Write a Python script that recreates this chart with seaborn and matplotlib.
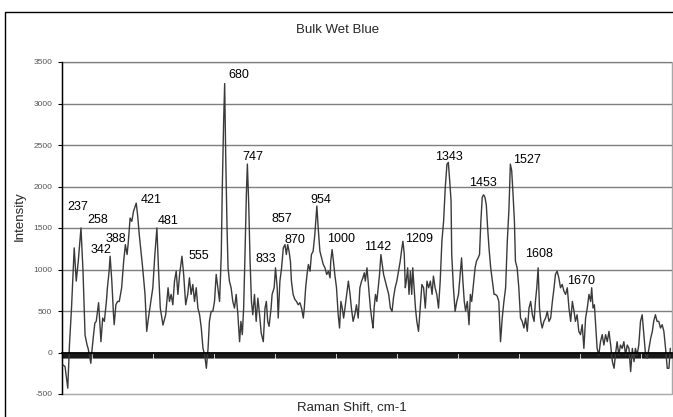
import numpy as np
import pandas as pd
import matplotlib
matplotlib.use("Agg")
import matplotlib.pyplot as plt
import seaborn as sns
from matplotlib.patches import Rectangle

# ---------------- data ----------------
raman_shift = [
    203, 209, 217, 222, 228, 236, 242, 248, 256, 262, 268, 274, 277, 281, 285, 289,
    293, 297, 301, 308, 315, 320, 325, 331, 334, 339, 342, 347, 352, 354, 359, 364,
    369, 376, 382, 387, 392, 395, 401, 406, 411, 419, 423, 428, 438, 445, 450, 455,
    462, 468, 474, 480, 485, 490, 498, 506,
    513, 517, 522, 527, 532, 537, 542, 547, 554, 559, 565, 571, 576, 581, 586, 591,
    596, 601, 606, 611, 616, 621, 626, 631, 635, 640, 645, 650, 655, 660, 665, 670,
    673, 677, 680, 683, 687, 690, 694, 699, 704, 709, 714, 719, 724, 728, 732, 736,
    740, 744, 747, 751, 755, 759, 763, 768, 773, 778, 783, 788,
    794, 799, 803, 807, 811, 817, 820, 826, 830, 835, 838, 843, 848, 853, 858, 862,
    866, 870, 874, 877, 882, 887, 892, 897, 902, 907, 912, 915, 919, 923, 927, 932,
    936, 941, 946, 952, 956, 961, 966, 971, 976, 981, 986, 991, 993, 997, 1001, 1005,
    1010, 1015, 1019, 1023, 1027, 1031, 1035, 1040, 1045, 1050, 1054, 1059, 1064, 1069,
    1074, 1079, 1084, 1088,
    1092, 1095, 1100, 1105, 1110, 1115, 1118, 1121, 1125, 1129, 1133, 1137, 1141, 1145,
    1149, 1154, 1159, 1164, 1169, 1174, 1178, 1183, 1188, 1193, 1198, 1203, 1206, 1210,
    1213, 1216, 1220, 1224, 1228, 1232, 1235, 1239, 1243, 1247, 1252, 1257, 1262, 1267,
    1272, 1277, 1282, 1287, 1292, 1296, 1301, 1306, 1311, 1316, 1321, 1326, 1331, 1336,
    1340, 1344, 1348, 1350, 1355, 1360, 1365, 1370, 1375, 1379, 1383, 1387,
    1391, 1396, 1401, 1405, 1409, 1413, 1419, 1423, 1428, 1432, 1436, 1440, 1444, 1448,
    1452, 1456, 1460, 1465, 1470, 1475, 1479, 1484, 1489, 1494, 1499, 1504, 1509, 1514,
    1519, 1523, 1527, 1531, 1535, 1538, 1543, 1548, 1553, 1558, 1563, 1568, 1573, 1578,
    1583, 1588, 1593, 1597, 1601, 1605, 1609, 1613, 1617, 1622, 1627, 1632, 1637, 1642,
    1647, 1652, 1656, 1661, 1666, 1671, 1676, 1681,
    1686, 1691, 1696, 1701, 1706, 1711, 1715, 1720, 1725, 1730, 1735, 1740, 1745, 1750,
    1755, 1760, 1763, 1767, 1771, 1774, 1779, 1784, 1789, 1794, 1799, 1804, 1809, 1814,
    1819, 1824, 1829, 1833, 1838, 1843, 1848, 1853, 1858, 1863, 1868, 1873, 1878, 1883,
    1888, 1892, 1897, 1902, 1907, 1912, 1917, 1922, 1927, 1932, 1937, 1942, 1946, 1951,
    1956, 1961, 1966, 1971, 1976, 1981, 1986, 1991, 1995,
]

intensity = [
    -150, -170, -430, 90, 530, 1260, 860, 1100, 1500, 980, 210, 90, 50, -30, -130, 50,
    210, 355, 375, 600, 130, 415, 375, 615, 780, 980, 1160, 860, 455, 335, 575, 615,
    615, 780, 1100, 1300, 1180, 1300, 1620, 1580, 1700, 1800, 1660, 1420, 1020, 700, 255, 415,
    615, 780, 1180, 1500, 980, 535, 330, 455,
    780, 615, 700, 575, 860, 980, 700, 940, 1160, 940, 575, 700, 900, 700, 820, 615,
    780, 535, 455, 295, 50, -30, -190, 50, 375, 495, 495, 615, 940, 780, 615, 1180,
    1990, 2790, 3240, 2390, 1500, 1020, 860, 780, 615, 535, 700, 455, 130, 375, 215, 535,
    1180, 1900, 2270, 1780, 1100, 615, 455, 700, 375, 655, 455, 230,
    130, 535, 615, 375, 315, 535, 700, 780, 1020, 780, 415, 860, 1020, 1260, 1300, 1180,
    1300, 1220, 1100, 860, 700, 640, 615, 575, 600, 535, 415, 535, 780, 940, 1060, 980,
    1180, 1220, 1420, 1765, 1500, 1220, 1140, 1060, 1020, 940, 980, 900, 1100, 1240, 1100, 940,
    780, 455, 295, 615, 535, 415, 535, 700, 860, 700, 535, 375, 455, 575,
    415, 780, 860, 900,
    960, 860, 1020, 780, 535, 375, 295, 535, 700, 615, 780, 940, 1180, 1060,
    940, 860, 780, 700, 535, 495, 655, 780, 860, 980, 1100, 1260, 1340, 1180,
    780, 860, 1020, 700, 980, 700, 1020, 780, 535, 375, 255, 535, 820, 780,
    535, 860, 780, 860, 700, 920, 780, 700, 535, 860, 1340, 1580, 1990, 2270,
    2290, 2070, 1830, 1180, 780, 495, 615, 700, 940, 1140, 860, 615,
    500, 615, 335, 700, 615, 780, 1020, 1100, 1140, 1180, 1580, 1870, 1900, 1870,
    1780, 1500, 1260, 1020, 860, 700, 700, 680, 615, 130, 415, 615, 780, 1340,
    1740, 2270, 2190, 1900, 1580, 1100, 1020, 780, 415, 375, 295, 415, 255, 535,
    615, 455, 375, 615, 780, 1020, 535, 375, 295, 375, 415, 495, 375, 415,
    615, 780, 940, 980, 900, 780, 820, 740,
    700, 780, 535, 375, 615, 495, 375, 455, 255, 215, 335, 50, 415, 535,
    700, 615, 780, 535, 575, 375, 50, -30, 130, 215, 90, 215, 130, 255,
    90, -110, -190, -30, 130, -30, 90, 50, 130, -30, 90, 50, -230, 50,
    -110, 50, -30, 90, 375, 455, 215, -30, -70, 50, 170, 255, 375, 455,
    375, 375, 295, 335, 255, 50, -190, -190, 50,
]

peak_labels = ["237", "258", "342", "388", "421", "481", "555", "680", "747", "833",
               "857", "870", "954", "1000", "1142", "1209", "1343", "1453", "1527",
               "1608", "1670"]

y_tick_values = [-500, 0, 500, 1000, 1500, 2000, 2500, 3000, 3500]

# ---------------- layout (label centres, in axis units) ----------------
label_x = [246, 305, 314, 358, 463, 512, 603, 723, 762, 801, 848, 886, 963, 1024,
           1131, 1255, 1342, 1442, 1571, 1608, 1732]
label_y = [1777, 1620, 1247, 1391, 1861, 1608, 1186, 3367, 2379, 1150, 1632, 1379,
           1861, 1391, 1295, 1391, 2379, 2066, 2343, 1210, 885]

W, H = 673, 417

sns.set_theme(style="white")
plt.rcParams['font.family'] = ['Liberation Sans', 'DejaVu Sans']

fig = plt.figure(figsize=(W / 100, H / 100), dpi=100)
fig.patch.set_facecolor("white")

# chart-area outer border (only top and left are visible)
fig.patches.append(Rectangle((5 / W, -0.1), 1.2, 1 - 12 / H + 0.1,
                             transform=fig.transFigure, fill=False,
                             edgecolor="black", linewidth=1.0))

ax = fig.add_axes([62 / W, 1 - 394 / H, 610 / W, 332 / H])
ax.set_facecolor("white")

df = pd.DataFrame({"Raman Shift": raman_shift, "Intensity": intensity})
sns.lineplot(data=df, x="Raman Shift", y="Intensity", ax=ax, color="#3a3a3a",
             linewidth=1.0, estimator=None, zorder=3)

ax.set_xlim(200, 2000)
ax.set_ylim(-500, 3500)

# grid lines
for v in y_tick_values[2:]:
    ax.axhline(v, color="#7f7f7f", linewidth=1.0, zorder=1)

# plot area border
ax.add_patch(Rectangle((0, 0), 1, 1, transform=ax.transAxes, fill=False,
                       edgecolor="#a8a8a8", linewidth=1.0, zorder=0.5, clip_on=False))

for s in ["top", "right"]:
    ax.spines[s].set_visible(False)
ax.spines["left"].set_color("black")
ax.spines["left"].set_linewidth(1.0)
ax.spines["bottom"].set_position(("data", 0))
ax.spines["bottom"].set_color("black")
ax.spines["bottom"].set_linewidth(1.3)
ax.spines["bottom"].set_zorder(4)

ax.set_xticks(np.arange(200, 2001, 3))
ax.tick_params(axis="x", direction="out", length=3.3, width=0.9, color="#1a1a1a",
               labelbottom=False, bottom=True)
ax.set_yticks(y_tick_values)
ax.set_yticklabels([str(v) for v in y_tick_values], fontsize=6, color="#555555")
ax.tick_params(axis="y", direction="out", length=3, width=0.8, color="black", pad=4, left=True)

ax.set_xlabel("")
ax.set_ylabel("")

# peak annotations
px_to_units = 4000 / 332.0
for txt, lx, ly in zip(peak_labels, label_x, label_y):
    ax.text(lx, ly - 4.5 * px_to_units, txt, ha="center", va="baseline",
            fontsize=9, color="black", zorder=5)

# titles
fig.text(338 / W, 1 - 32.7 / H, "Bulk Wet Blue", ha="center", va="baseline", fontsize=9.5)
fig.text(351.5 / W, 1 - 411 / H, "Raman Shift, cm-1", ha="center", va="baseline", fontsize=9.5)
fig.text(20 / W, 1 - 216.5 / H, "Intensity", ha="center", va="center", rotation=90, fontsize=9.5)

fig.savefig("out.png", dpi=100)
